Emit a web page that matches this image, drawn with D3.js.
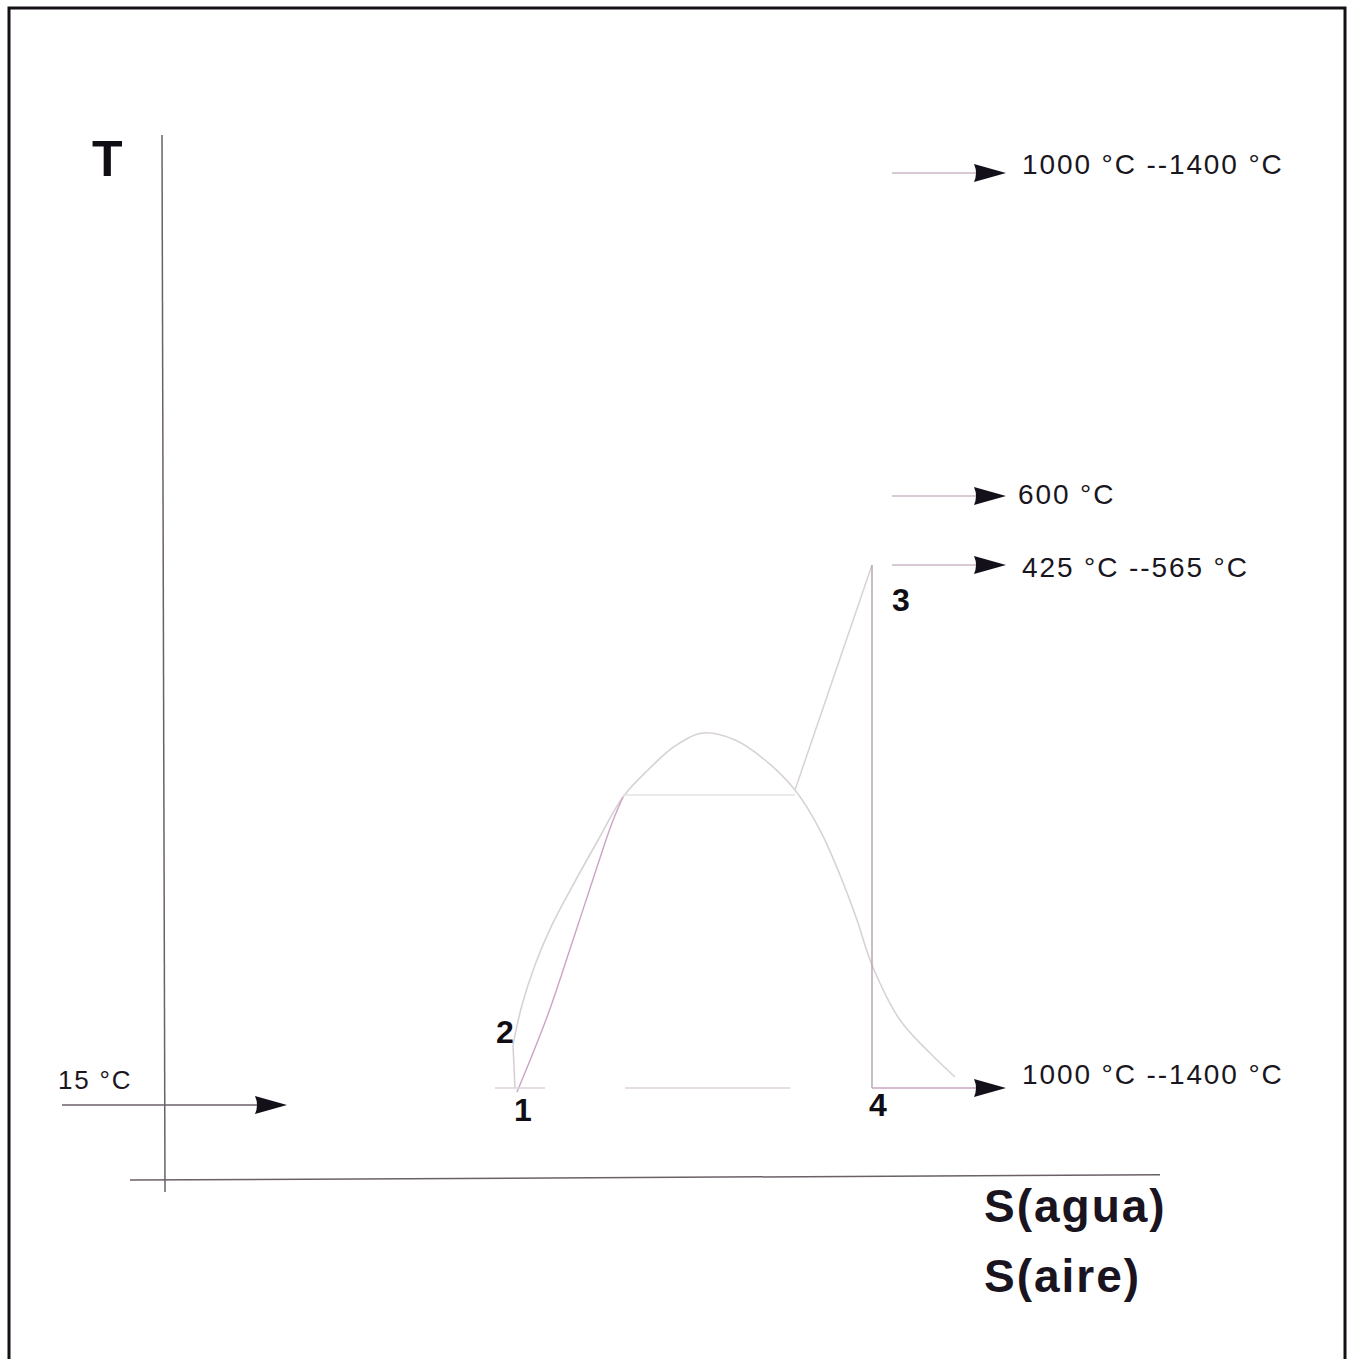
<!DOCTYPE html>
<html><head><meta charset="utf-8">
<script src="https://cdn.jsdelivr.net/npm/d3@7"></script>
<style>html,body{margin:0;padding:0;background:#fff;}svg{display:block;}</style>
</head><body>
<script>
// ---- data (abstract s / T units) ----
const domeS = [3.50,3.59,3.72,3.89,4.10,4.34,4.60,4.85,5.12,5.40,5.72,6.02,6.32,6.57,6.77,6.94,7.09,7.37,7.67,7.92];
const domeT = [1.267,1.648,2.029,2.410,2.790,3.200,3.629,3.886,4.114,4.238,4.171,3.981,3.695,3.314,2.886,2.457,2.029,1.505,1.190,0.962];
const liquidS = [3.54,3.84,4.09,4.34,4.49,4.60];
const liquidT = [0.819,1.533,2.238,2.962,3.381,3.629];
const pumpS = [3.50,3.52];            // 2 -> 1
const pumpT = [1.267,0.857];
const evapS = [4.60,6.32];            // boiling
const evapT = [3.648,3.648];
const superS = [6.32,7.09];           // superheat to 3
const superT = [3.695,5.838];
const turbS = [7.09,7.09];            // 3 -> 4
const turbT = [5.838,0.857];
const condS1 = [3.32,3.82], condS2 = [4.62,6.27];
const condT = 0.857;
const pointLabels = ["1","2","3","4"];
const pointS = [3.60,3.42,7.38,7.15];
const pointT = [0.648,1.390,5.505,0.695];
const arrowLabels = ["1000 °C --1400 °C","600 °C","425 °C --565 °C","1000 °C --1400 °C"];
const arrowT = [9.571,6.495,5.838,0.857];
const arrowTextT = [9.648,6.505,5.810,0.990];
const arrowStartS = [7.29,7.29,7.29,7.09];
const inletLabel = "15 °C";
const inletT = 0.695;
const axisLabelY = "T";
const axisLabelsX = ["S(agua)","S(aire)"];

const W = 1351, H = 1359;
const svg = d3.select("body").append("svg").attr("width", W).attr("height", H);
const x = d3.scaleLinear().domain([0,10]).range([163,1163]);
const y = d3.scaleLinear().domain([0,10]).range([1178,128]);

// frame
svg.append("rect").attr("x",9).attr("y",8).attr("width",1336).attr("height",1420)
  .attr("fill","none").attr("stroke","#151015").attr("stroke-width",3);

// axes
svg.append("line").attr("x1",x(-0.01)).attr("y1",135).attr("x2",x(0.02)).attr("y2",1192)
  .attr("stroke","#6a6068").attr("stroke-width",1.5);
svg.append("line").attr("x1",x(-0.33)).attr("y1",y(-0.02)).attr("x2",x(9.97)).attr("y2",y(0.03))
  .attr("stroke","#6a6068").attr("stroke-width",1.5);

const lineGen = d3.line().x(d=>x(d[0])).y(d=>y(d[1]));
const curveGen = d3.line().x(d=>x(d[0])).y(d=>y(d[1])).curve(d3.curveCatmullRom.alpha(0.5));
const zip = (a,b)=>a.map((v,i)=>[v,b[i]]);

// dome
svg.append("path").attr("d", curveGen(zip(domeS,domeT)))
  .attr("fill","none").attr("stroke","#d8d2d6").attr("stroke-width",1.6);
// liquid heating
svg.append("path").attr("d", curveGen(zip(liquidS,liquidT)))
  .attr("fill","none").attr("stroke","#caa4c4").attr("stroke-width",1.4);
// pump 1-2
svg.append("path").attr("d", lineGen(zip(pumpS,pumpT)))
  .attr("fill","none").attr("stroke","#d8cdd6").attr("stroke-width",1.5);
// evaporation
svg.append("path").attr("d", lineGen(zip(evapS,evapT)))
  .attr("fill","none").attr("stroke","#e6e2e4").attr("stroke-width",1.4);
// superheat
svg.append("path").attr("d", lineGen(zip(superS,superT)))
  .attr("fill","none").attr("stroke","#d8d2d6").attr("stroke-width",1.5);
// expansion 3-4
svg.append("path").attr("d", lineGen(zip(turbS,turbT)))
  .attr("fill","none").attr("stroke","#b0a2b0").attr("stroke-width",1.4);
// condensation (faint)
[condS1, condS2].forEach(sx=>{
  svg.append("path").attr("d", lineGen(sx.map(s=>[s,condT])))
    .attr("fill","none").attr("stroke","#ddd2da").attr("stroke-width",1.5);
});

// arrowhead
function arrowHead(xTip, yc){
  const w=32, h=18;
  svg.append("path")
    .attr("d",`M${xTip-w},${yc-h/2} Q${xTip-w+4},${yc} ${xTip-w},${yc+h/2} L${xTip},${yc} Z`)
    .attr("fill","#14101a");
}

// right arrows
arrowT.forEach((t,i)=>{
  const yy = y(t);
  svg.append("line").attr("x1",x(arrowStartS[i])).attr("y1",yy).attr("x2",x(8.14)).attr("y2",yy)
    .attr("stroke", i===3 ? "#c6a6c0" : "#cbb8c6").attr("stroke-width",1.5);
  arrowHead(x(8.43), yy);
  svg.append("text").attr("x", i===1 ? x(8.55) : x(8.59)).attr("y", y(arrowTextT[i]))
    .attr("dominant-baseline","central")
    .attr("font-family","Liberation Sans, Arial, sans-serif").attr("font-size",28)
    .attr("letter-spacing",1.9).attr("fill","#1a1620").text(arrowLabels[i]);
});

// inlet arrow 15 °C
svg.append("line").attr("x1",62).attr("y1",y(inletT)).attr("x2",258).attr("y2",y(inletT))
  .attr("stroke","#6a6068").attr("stroke-width",1.5);
arrowHead(287, y(inletT));
svg.append("text").attr("x",58).attr("y",1080).attr("dominant-baseline","central")
  .attr("font-family","Liberation Sans, Arial, sans-serif").attr("font-size",26)
  .attr("letter-spacing",1.8).attr("fill","#1a1620").text(inletLabel);

// point labels
pointLabels.forEach((l,i)=>{
  svg.append("text").attr("x",x(pointS[i])).attr("y",y(pointT[i])).attr("text-anchor","middle")
    .attr("dominant-baseline","central")
    .attr("font-family","Liberation Sans, Arial, sans-serif").attr("font-weight","bold")
    .attr("font-size",32).attr("fill","#110d14").text(l);
});

// axis labels
svg.append("text").attr("x",92).attr("y",176)
  .attr("font-family","Liberation Sans, Arial, sans-serif").attr("font-weight","bold")
  .attr("font-size",50).attr("fill","#110d14").text(axisLabelY);
axisLabelsX.forEach((l,i)=>{
  svg.append("text").attr("x",984).attr("y",1222 + i*70)
    .attr("font-family","Liberation Sans, Arial, sans-serif").attr("font-weight","bold")
    .attr("font-size",46).attr("letter-spacing",2).attr("fill","#1a1420").text(l);
});
</script>
</body></html>
